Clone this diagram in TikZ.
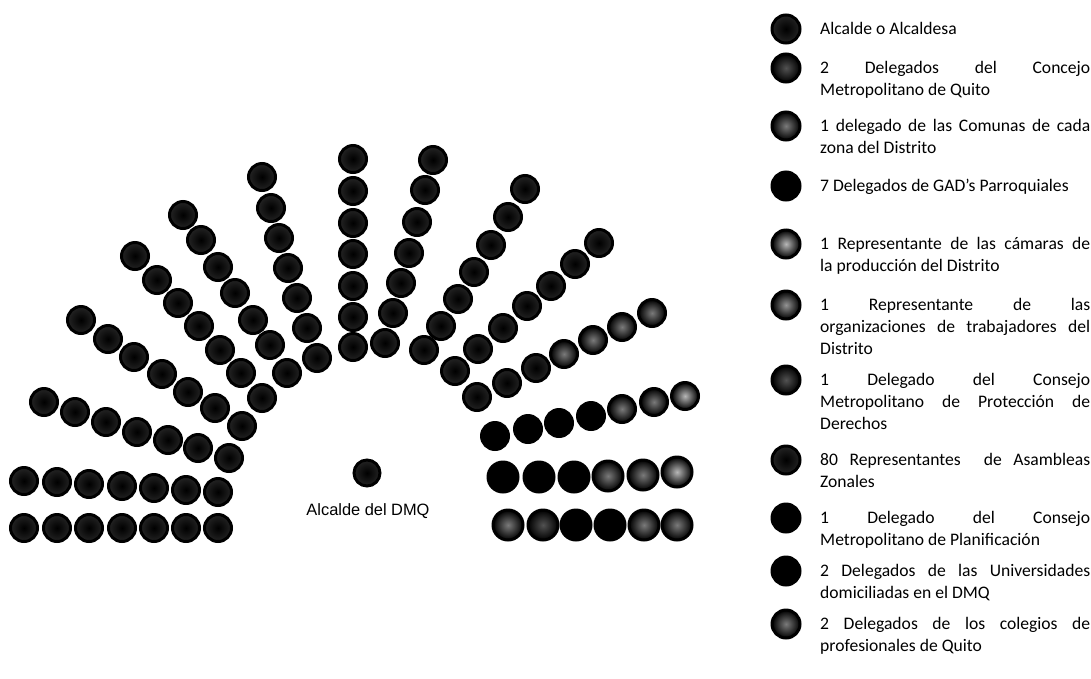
\documentclass[tikz,border=0pt]{standalone}
\usepackage{fontspec}
\setmainfont{Carlito}
\newfontfamily\dmqfont{Liberation Sans}
\usetikzlibrary{positioning}

\begin{document}
\begin{tikzpicture}[x=1pt,y=-1pt,
  baseSeat/.style={circle,draw=black,line width=3pt,inner sep=0pt,minimum size=27pt},
  seat/.style={baseSeat,inner color=black,outer color=black!86},
  dimSeat/.style={baseSeat,inner color=black!68,outer color=black},
  greySeat/.style={baseSeat,inner color=black!52,outer color=black},
  midSeat/.style={baseSeat,inner color=black!42,outer color=black},
  lightSeat/.style={baseSeat,inner color=black!28,outer color=black},
  solidSeat/.style={baseSeat,fill=black},
  keyText/.style={anchor=north west,text width=270pt,align=justify,inner sep=0pt,font=\fontsize{17.6}{22}\selectfont}]
\useasboundingbox (0,0) rectangle (1091,678);
\fill[white] (0,0) rectangle (1091,678);
% left half
\foreach \x/\y [count=\i] in {24/528,57/528,89/528,122/528,154/528,186/528,218/528}
  \node[seat] (rowB-\i) at (\x,\y) {};
\foreach \x/\y [count=\i] in {24/481,57/482,89/484,122/486,154/488,186/490,218/492}
  \node[seat] (rowA-\i) at (\x,\y) {};
\foreach \x/\y [count=\i] in {44/402,75/412,106/422,137/432,168/440,198/448,229/458}
  \node[seat] (r1-\i) at (\x,\y) {};
\foreach \x/\y [count=\i] in {81/320,108/339,134/357,162/374,188/392,215/408,242/426}
  \node[seat] (r2-\i) at (\x,\y) {};
\foreach \x/\y [count=\i] in {135/256,157/280,178/303,199/326,220/350,241/373,262/398}
  \node[seat] (r3-\i) at (\x,\y) {};
\foreach \x/\y [count=\i] in {183/215,201/240,218/267,235/293,253/320,270/345,287/373}
  \node[seat] (r4-\i) at (\x,\y) {};
\foreach \x/\y [count=\i] in {262/177,271/208,279/238,288/268,297/298,307/328,317/358}
  \node[seat] (r5-\i) at (\x,\y) {};
\foreach \y [count=\i] in {159,191,223,254,286,317,347}
  \node[seat] (c-\i) at (353,\y) {};
% right half
\foreach \x/\y [count=\i] in {433/160,425/190,417/222,409/253,401/283,393/313,385/343}
  \node[seat] (r6-\i) at (\x,\y) {};
\foreach \x/\y [count=\i] in {525/189,508/217,491/245,474/272,458/299,441/326,424/350}
  \node[seat] (r7-\i) at (\x,\y) {};
\foreach \x/\y [count=\i] in {599/243,575/264,551/286,527/306,503/328,478/349,455/371}
  \node[seat] (r8-\i) at (\x,\y) {};
\foreach \x/\y/\s [count=\i] in {652/313/greySeat,622/327/greySeat,593/340/greySeat,564/354/greySeat,536/368/seat,507/383/seat,477/397/seat}
  \node[\s] (r9-\i) at (\x,\y) {};
\foreach \x/\y/\s [count=\i] in {685/396/lightSeat,654/402/greySeat,622/409/greySeat,591/416/solidSeat,559/423/solidSeat,528/429/solidSeat,495/436/solidSeat}
  \node[\s] (r10-\i) at (\x,\y) {};
\foreach \x/\y/\s [count=\i] in {503/477/solidSeat,539/477/solidSeat,574/477/solidSeat,608/476/greySeat,643/475/greySeat,677/472/lightSeat}
  \node[\s,minimum size=30pt] (rowC-\i) at (\x,\y) {};
\foreach \x/\y/\s [count=\i] in {508/525/greySeat,543/525/dimSeat,576/525/solidSeat,610/525/solidSeat,644/525/greySeat,677/525/greySeat}
  \node[\s,minimum size=30pt] (rowD-\i) at (\x,\y) {};
% alcalde
\node[seat,minimum size=26pt] (alcalde) at (367,473) {};
\node[font=\dmqfont\fontsize{16.4}{18}\selectfont,inner sep=0pt] (alcaldeLabel) at (368,511) {Alcalde del DMQ};
% legend
\foreach \y/\s [count=\i] in {29/seat,68/dimSeat,126/greySeat,186/solidSeat,244/lightSeat,305/midSeat,380/dimSeat,460/seat,518/solidSeat,571/solidSeat,624/greySeat}
  \node[\s,minimum size=28pt] (key\i) at (786,\y) {};
\node[keyText] (leg1) at (820,19) {\strut Alcalde o Alcaldesa};
\node[keyText] (leg2) at (820,58) {\strut 2 Delegados del Concejo\linebreak Metropolitano de Quito};
\node[keyText] (leg3) at (820,116) {\strut 1 delegado de las Comunas de cada\linebreak zona del Distrito};
\node[keyText] (leg4) at (820,176) {\strut 7 Delegados de GAD’s Parroquiales};
\node[keyText] (leg5) at (820,234) {\strut 1 Representante de las cámaras de\linebreak la producción del Distrito};
\node[keyText] (leg6) at (820,295) {\strut 1 Representante de las\linebreak organizaciones de trabajadores del\linebreak Distrito};
\node[keyText] (leg7) at (820,370) {\strut 1 Delegado del Consejo\linebreak Metropolitano de Protección de\linebreak Derechos};
\node[keyText] (leg8) at (820,450) {\strut 80 Representantes\ \ de Asambleas\linebreak Zonales};
\node[keyText] (leg9) at (820,508) {\strut 1 Delegado del Consejo\linebreak Metropolitano de Planificación};
\node[keyText] (leg10) at (820,561) {\strut 2 Delegados de las Universidades\linebreak domiciliadas en el DMQ};
\node[keyText] (leg11) at (820,614) {\strut 2 Delegados de los colegios de\linebreak profesionales de Quito};
\end{tikzpicture}
\end{document}
